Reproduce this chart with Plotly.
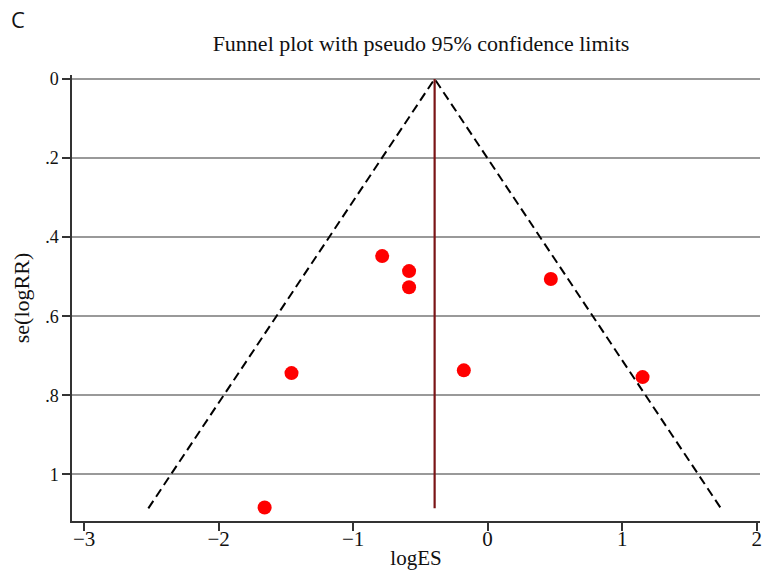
import plotly.graph_objects as go

# Data
log_es = [-0.784, -0.584, -0.584, 0.470, -1.458, -0.177, 1.152, -1.658]
se_logrr = [0.448, 0.486, 0.527, 0.506, 0.744, 0.737, 0.754, 1.084]
pooled = -0.394
se_max = 1.086
x_ticks = [-3, -2, -1, 0, 1, 2]
x_tick_text = ["\u22123", "\u22122", "\u22121", "0", "1", "2"]
y_ticks = [0, 0.2, 0.4, 0.6, 0.8, 1.0]
y_tick_text = ["0", ".2", ".4", ".6", ".8", "1"]

z = 1.96
serif = "Liberation Serif, Times New Roman, serif"

fig = go.Figure()
# pseudo 95% CI limits
fig.add_trace(go.Scatter(
    x=[pooled - z * se_max, pooled, pooled + z * se_max],
    y=[se_max, 0, se_max],
    mode="lines",
    line=dict(color="black", width=2, dash="9px,5px"),
    hoverinfo="skip", showlegend=False))
# pooled estimate line
fig.add_trace(go.Scatter(
    x=[pooled, pooled], y=[0, se_max],
    mode="lines",
    line=dict(color="#7a1416", width=2.2),
    hoverinfo="skip", showlegend=False))
# studies
fig.add_trace(go.Scatter(
    x=log_es, y=se_logrr, mode="markers",
    marker=dict(color="#ff0000", size=14, line=dict(width=0)),
    showlegend=False))

fig.update_layout(
    width=762, height=576,
    margin=dict(l=72, r=0, t=75, b=55),
    paper_bgcolor="white", plot_bgcolor="white",
    title=dict(text="Funnel plot with pseudo 95% confidence limits",
               x=0.5525, xanchor="center", y=0.924, yanchor="middle",
               font=dict(family=serif, size=22, color="#111")),
    font=dict(family=serif, size=21, color="#111"),
)
fig.update_xaxes(
    range=[-3.09, 2.025], tickvals=x_ticks, ticktext=x_tick_text,
    showgrid=False, zeroline=False,
    showline=True, linecolor="#333", linewidth=1.5,
    ticks="outside", ticklen=8, tickwidth=1.5, tickcolor="#333",
    ticklabeloverflow="allow", ticklabelstandoff=-10,
    title=dict(text="logES", font=dict(family=serif, size=21), standoff=0),
    tickfont=dict(family=serif, size=21))
fig.update_yaxes(
    range=[1.118, -0.01], tickvals=y_ticks, ticktext=y_tick_text,
    showgrid=True, gridcolor="#999999", gridwidth=1.5, zeroline=False,
    showline=True, linecolor="#333", linewidth=1.5,
    ticks="outside", ticklen=8, tickwidth=1.5, tickcolor="#333",
    ticklabeloverflow="allow",
    title=dict(text="se(logRR)", font=dict(family=serif, size=22), standoff=9),
    tickfont=dict(family=serif, size=18))

fig.add_annotation(text="C", xref="paper", yref="paper",
                   x=-63 / 690, y=1 + 56 / 446, xanchor="left", yanchor="middle",
                   showarrow=False,
                   font=dict(family="Open Sans, Noto Sans, sans-serif", size=22, color="#111"))

fig.write_html("out.html")
